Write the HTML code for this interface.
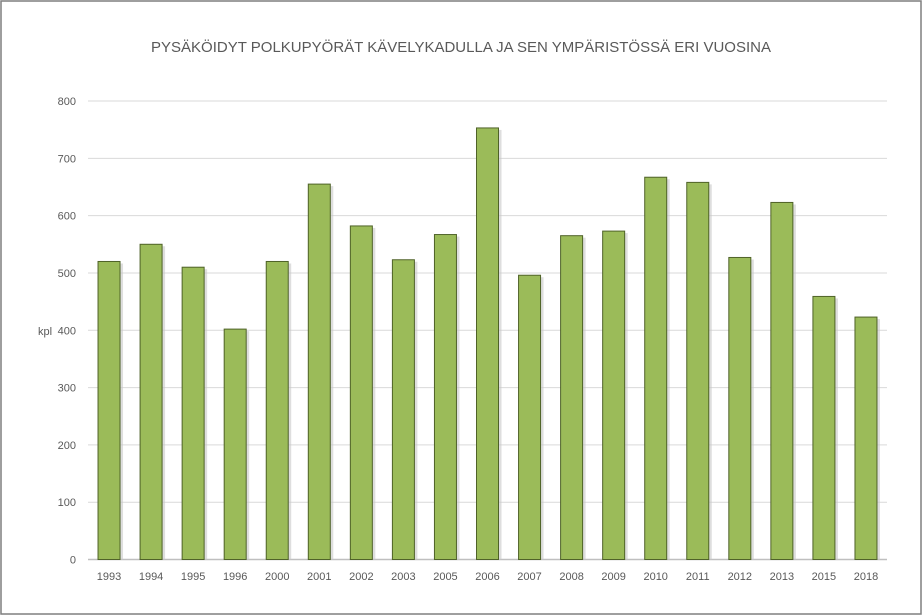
<!DOCTYPE html>
<html><head><meta charset="utf-8"><style>
body{margin:0;background:#fff;}
#wrap{position:relative;width:922px;height:615px;overflow:hidden;}
svg{position:absolute;left:0;top:0;font-family:"Liberation Sans",sans-serif;}
</style></head><body>
<div id="wrap">
<svg id="chart" width="922" height="615">
<rect x="1" y="1" width="920" height="613" fill="#fff" stroke="#7f7f7f" stroke-width="1.5"/>
<text x="461" y="52" text-anchor="middle" font-size="15" fill="#595959">PYSÄKÖIDYT POLKUPYÖRÄT KÄVELYKADULLA JA SEN YMPÄRISTÖSSÄ ERI VUOSINA</text>
<text x="38" y="335" font-size="11" fill="#595959">kpl</text>
<g id="grid"></g><g id="bars"></g><g id="labels"></g>
</svg>
</div>
<script>
const categories=["1993","1994","1995","1996","2000","2001","2002","2003","2005","2006","2007","2008","2009","2010","2011","2012","2013","2015","2018"];
const values=[520,550,510,402,520,655,582,523,567,753,496,565,573,667,658,527,623,459,423];
const yTicks=[0,100,200,300,400,500,600,700,800];
const NS="http://www.w3.org/2000/svg";
const x0=88,x1=887,yBase=559.5,yTop=101,yMax=800;
const band=(x1-x0)/categories.length;
const y=v=>yBase-(v/yMax)*(yBase-yTop);
const xc=i=>x0+band*(i+0.5);
function mk(t,a){const e=document.createElementNS(NS,t);for(const k in a)e.setAttribute(k,a[k]);return e;}
const grid=document.getElementById('grid'),bars=document.getElementById('bars'),labels=document.getElementById('labels');
yTicks.forEach(t=>{
  const l=mk('line',{x1:x0,x2:x1,y1:y(t),y2:y(t),stroke:t===0?'#bfbfbf':'#d9d9d9','stroke-width':t===0?1.5:1});
  
  
  grid.appendChild(l);
  const tx=mk('text',{x:76,y:y(t)+4,'text-anchor':'end','font-size':11,fill:'#595959'});
  tx.textContent=t;
  
  
  labels.appendChild(tx);
});
const bw=22;
categories.forEach((c,i)=>{
  const v=values[i];
  const sh=mk('rect',{x:xc(i)-bw/2+3,y:y(v)+2,width:bw,height:yBase-y(v)-2,fill:'#c8c8c8',opacity:0.6});
  
  
  bars.appendChild(sh);
  const r=mk('rect',{x:xc(i)-bw/2,y:y(v),width:bw,height:yBase-y(v),fill:'#9bbb59',stroke:'#4f6228','stroke-width':1});
  
  
  bars.appendChild(r);
  const tx=mk('text',{x:xc(i),y:580,'text-anchor':'middle','font-size':11,fill:'#595959'});
  tx.textContent=c;
  
  
  labels.appendChild(tx);
});
</script>
</body></html>
